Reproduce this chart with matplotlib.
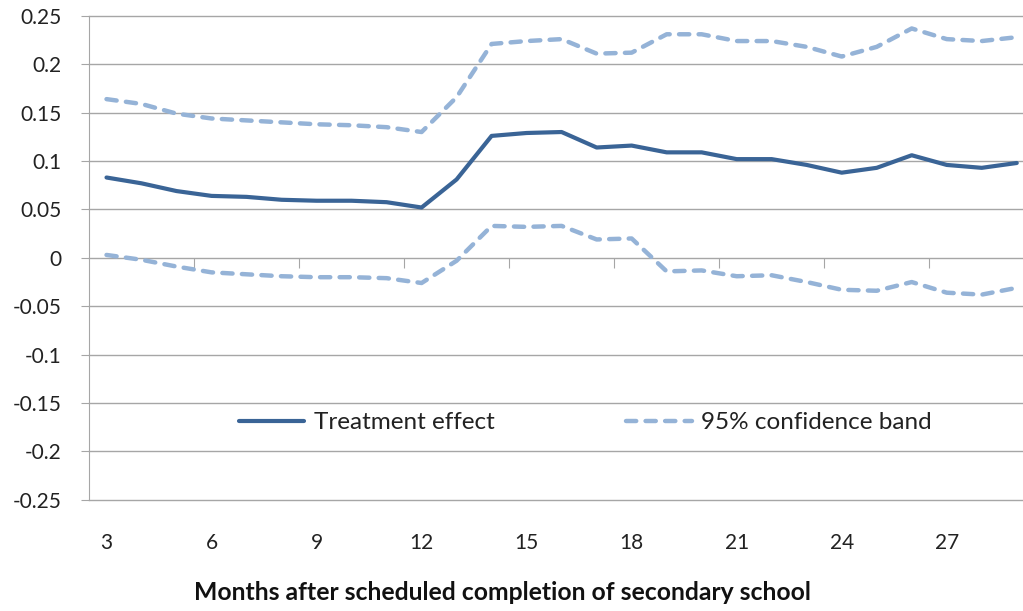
import matplotlib
matplotlib.use("Agg")
import matplotlib.pyplot as plt
import numpy as np

# months after scheduled completion
months = list(range(3, 30))

# treatment effect and 95% band
effect = [0.083, 0.077, 0.069, 0.064, 0.063, 0.060, 0.059, 0.059, 0.0575, 0.052,
          0.081, 0.126, 0.129, 0.130, 0.114, 0.116, 0.109, 0.109, 0.102, 0.102,
          0.096, 0.088, 0.093, 0.106, 0.096, 0.093, 0.098]
upper = [0.164, 0.159, 0.149, 0.144, 0.142, 0.140, 0.138, 0.137, 0.135, 0.130,
         0.166, 0.221, 0.224, 0.226, 0.211, 0.212, 0.231, 0.231, 0.224, 0.224,
         0.218, 0.208, 0.218, 0.237, 0.226, 0.224, 0.228]
lower = [0.003, -0.002, -0.009, -0.015, -0.017, -0.019, -0.020, -0.020, -0.021, -0.026,
         -0.003, 0.033, 0.032, 0.033, 0.019, 0.020, -0.014, -0.013, -0.019, -0.018,
         -0.025, -0.033, -0.034, -0.025, -0.036, -0.038, -0.031]

label_months = list(range(3, 28, 3))
yticks = [-0.25, -0.2, -0.15, -0.1, -0.05, 0, 0.05, 0.1, 0.15, 0.2, 0.25]

plt.rcParams['font.family'] = ['Lato', 'DejaVu Sans']

fig = plt.figure(figsize=(10.23, 6.11), dpi=100)
ax = fig.add_axes([0.087, 0.182, 0.924, 0.792])

dark = '#3A6496'
light = '#95B3D7'
grid_c = '#A6A6A6'

ax.plot(months, effect, color=dark, lw=3.0, solid_capstyle='round', label='Treatment effect')
ax.plot(months, upper, color=light, lw=3.2, dashes=(2.3, 2.1), dash_capstyle='round',
        label='95% confidence band')
ax.plot(months, lower, color=light, lw=3.2, dashes=(2.3, 2.1), dash_capstyle='round')

ax.set_xlim(2.5, 29.5)
ax.set_ylim(-0.25, 0.25)
ax.set_yticks(yticks)
ax.set_yticklabels(['%g' % v for v in yticks])
ax.set_xticks(label_months)
ax.tick_params(axis='x', length=0, pad=24, labelsize=15, labelcolor='#222222')
ax.tick_params(axis='y', length=6, color=grid_c, pad=13.5, labelsize=15, labelcolor='#222222')
ax.yaxis.grid(True, color=grid_c, lw=1.0)
for gl in ax.get_ygridlines():
    gl.set_clip_on(False)
ax.set_axisbelow(True)
for s in ['top', 'right', 'bottom']:
    ax.spines[s].set_visible(False)
ax.spines['left'].set_color(grid_c)

# category axis crossing at zero, tick marks between categories
sec = ax.secondary_xaxis(0.5)
sec.set_xticks(np.arange(5.5, 29, 3))
sec.tick_params(axis='x', direction='in', length=7, color=grid_c, labelbottom=False, labeltop=False)
sec.spines['top'].set_visible(False)
sec.spines['bottom'].set_visible(False)

ax.set_xlabel('Months after scheduled completion of secondary school', fontsize=17.8,
              fontweight='bold', color='#111111')
ax.xaxis.set_label_coords(0.437, -0.168)

ax.legend(loc='center', bbox_to_anchor=(0.525, 0.159), ncol=2, frameon=False,
          fontsize=17.5, handlelength=2.7, columnspacing=5.4, handletextpad=0.4,
          labelcolor='#222222')

fig.savefig('out.png', dpi=100)
